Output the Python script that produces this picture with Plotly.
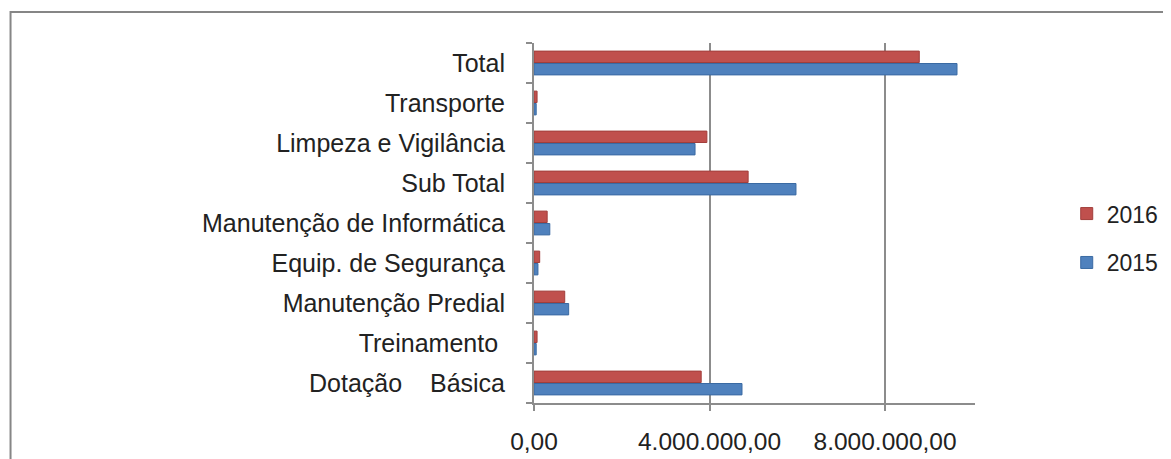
import plotly.graph_objects as go

categories = ["Dotação\u00a0\u00a0\u00a0\u00a0Básica", "Treinamento\u00a0", "Manutenção Predial",
              "Equip. de Segurança", "Manutenção de Informática", "Sub Total",
              "Limpeza e Vigilância", "Transporte", "Total"]
values_2015 = [4740000, 50000, 790000, 90000, 360000, 5970000, 3670000, 50000, 9640000]
values_2016 = [3810000, 70000, 700000, 130000, 300000, 4880000, 3940000, 70000, 8780000]
tick_vals = [0, 4000000, 8000000]
tick_text = ["0,00", "4.000.000,00", "8.000.000,00"]

fig = go.Figure()
fig.add_trace(go.Bar(y=categories, x=values_2015, name="2015", orientation="h",
                     legendgroup="g2015", legendrank=2,
                     marker=dict(color="#4F81BD", line=dict(color="#3A6AA3", width=1))))
fig.add_trace(go.Bar(y=categories, x=values_2016, name="2016", orientation="h",
                     legendgroup="g2016", legendrank=1,
                     marker=dict(color="#C0504D", line=dict(color="#A23E3B", width=1))))

fig.update_layout(
    width=1171, height=459,
    margin=dict(l=526, r=204, t=35, b=48),
    barmode="group", bargap=0.38, bargroupgap=0.08,
    plot_bgcolor="white", paper_bgcolor="white",
    font=dict(family="Liberation Sans, Arial, sans-serif", size=24, color="#222222"),
    legend=dict(traceorder="grouped", x=1.208, y=0.458, xanchor="left", yanchor="middle",
                font=dict(size=23), tracegroupgap=16, itemwidth=30,
                bgcolor="rgba(0,0,0,0)"),
    shapes=[dict(type="rect", xref="paper", yref="paper", x0=-1.187, x1=1.46, y0=-0.3, y1=1.086,
                 line=dict(color="#868686", width=2), layer="below")],
)
fig.update_xaxes(range=[0, 10050000], tickvals=tick_vals, ticktext=tick_text,
                 showgrid=True, gridcolor="#8C8C8C", gridwidth=2, zeroline=False,
                 showline=True, linecolor="#8C8C8C", linewidth=2,
                 ticks="outside", ticklen=6, tickcolor="#8C8C8C", tickwidth=2,
                 ticklabelstandoff=10, tickfont=dict(size=24.5))
fig.update_yaxes(showline=True, linecolor="#8C8C8C", linewidth=2,
                 ticks="outside", tickson="boundaries", ticklen=6, tickcolor="#8C8C8C", tickwidth=2,
                 ticklabelstandoff=22, showgrid=False, tickfont=dict(size=25))

fig.write_html("out.html")
